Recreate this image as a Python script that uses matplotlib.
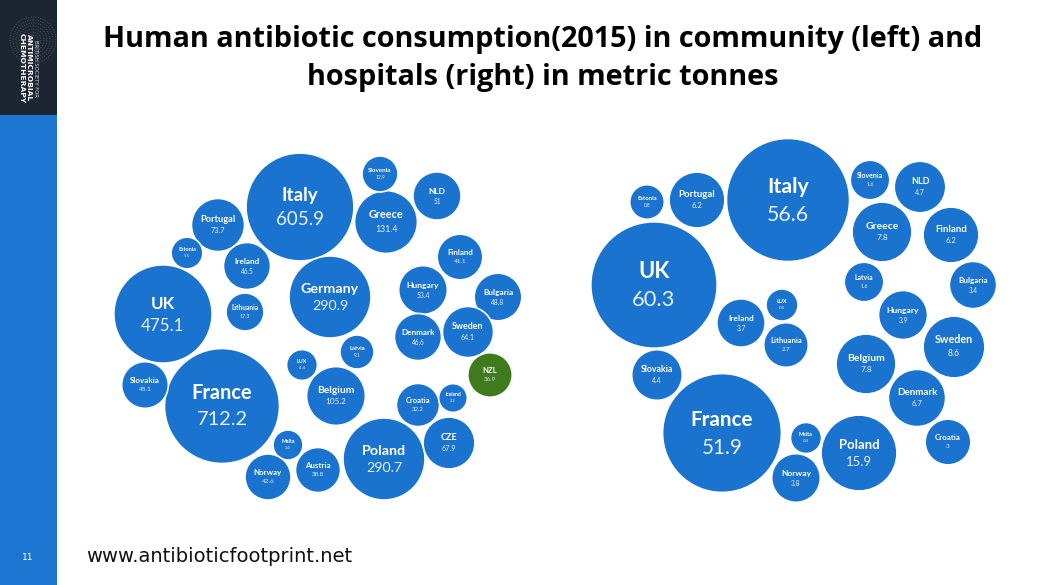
import numpy as np
import matplotlib
matplotlib.use('Agg')
import matplotlib.pyplot as plt
from matplotlib.patches import Circle, Rectangle


# community consumption (left chart), metric tonnes
LEFT_NAMES = ['Italy', 'France', 'UK', 'Germany', 'Poland', 'Greece', 'Belgium',
              'Portugal', 'Ireland', 'Estonia', 'Lithuania', 'Slovenia', 'NLD',
              'Finland', 'Hungary', 'Bulgaria', 'Denmark', 'Sweden', 'Latvia',
              'LUX', 'NZL', 'Croatia', 'Iceland', 'CZE', 'Malta', 'Austria',
              'Norway', 'Slovakia']
LEFT_VALUES = [605.9, 712.2, 475.1, 290.9, 290.7, 131.4, 105.2,
               73.7, 46.5, 5.5, 17.3, 12.9, 51,
               41.1, 53.4, 48.8, 46.6, 64.1, 9.1,
               4.4, 36.9, 32.2, 2.2, 67.9, 3.4, 38.8,
               42.6, 45.1]

# hospital consumption (right chart), metric tonnes
RIGHT_NAMES = ['UK', 'Italy', 'France', 'Slovakia', 'Ireland', 'LUX', 'Lithuania',
               'Malta', 'Norway', 'Estonia', 'Portugal', 'Slovenia', 'NLD',
               'Greece', 'Finland', 'Latvia', 'Bulgaria', 'Hungary', 'Sweden',
               'Belgium', 'Denmark', 'Croatia', 'Poland']
RIGHT_VALUES = [60.3, 56.6, 51.9, 4.4, 3.7, 0.5, 2.7,
                0.4, 3.8, 0.8, 6.2, 1.6, 4.7,
                7.8, 6.2, 1.6, 3.4, 3.9, 8.6,
                7.8, 6.7, 3, 15.9]

# packed-bubble layout (bubble centres, chart-local units)
LEFT_LAYOUT_X = [200, 122, 63, 230, 284, 286, 236, 118, 147, 87, 145, 280, 337,
                 360, 323, 398, 318, 368, 257, 202, 390, 318, 353, 349, 188, 218,
                 168, 45]
LEFT_LAYOUT_Y = [67, 266, 174, 157, 319, 82, 256, 85, 126, 113, 172, 34, 56,
                 117, 150, 157, 197, 192, 212, 225, 235, 265, 258, 303, 305, 330,
                 337, 245]
RIGHT_LAYOUT_X = [74, 208, 142, 77, 161, 202, 206, 226, 216, 67, 117, 290, 340,
                  302, 371, 284, 393, 323, 374, 286, 337, 368, 279]
RIGHT_LAYOUT_Y = [155, 70, 303, 245, 193, 175, 215, 308, 348, 72, 70, 50, 57,
                  102, 105, 152, 155, 185, 217, 234, 268, 312, 323]

HIGHLIGHT = {'NZL'}

BLUE = '#1A73CE'
GREEN = '#3F7B1C'
NAVY = '#1D2432'
SIDE_BLUE = '#1C76D1'

W, H = 1044, 585


def draw_bubbles(ax, names, values, xs, ys, base, scale):
    for name, value, x, y in zip(names, values, xs, ys):
        r = base + scale * np.sqrt(value)
        color = GREEN if name in HIGHLIGHT else BLUE
        ax.add_patch(Circle((x, y), r, facecolor=color, edgecolor='white', lw=1.2))
        fs = 0.25 * r
        vfs = fs if r > 35 else 0.2 * r
        ax.text(x, y - 0.05 * r, name, ha='center', va='bottom', color='white',
                fontsize=fs, fontweight='bold', family='Lato')
        ax.text(x, y + 0.08 * r, f'{value:g}', ha='center', va='top',
                color='#E8F0FA', fontsize=vfs, family='Lato')


def add_axes_px(fig, x0, y0, w, h):
    ax = fig.add_axes([x0 / W, (H - y0 - h) / H, w / W, h / H])
    ax.set_xlim(0, w)
    ax.set_ylim(h, 0)
    ax.axis('off')
    return ax


def main():
    fig = plt.figure(figsize=(W / 100, H / 100), dpi=100)
    fig.patch.set_facecolor('white')

    # sidebar
    fig.patches.append(Rectangle((0, 0), 57 / W, 1, transform=fig.transFigure,
                                 facecolor=SIDE_BLUE, zorder=-2))
    fig.patches.append(Rectangle((0, 1 - 115 / H), 57 / W, 115 / H,
                                 transform=fig.transFigure, facecolor=NAVY,
                                 zorder=-1))
    side = add_axes_px(fig, 0, 0, 57, 115)
    for rr in np.arange(5, 26, 3.0):
        side.add_patch(Circle((33, 40), rr, fill=False, edgecolor='#9AA2B0',
                              lw=0.6, ls=(0, (1, 2)), alpha=0.55))
    side.text(35, 68, 'BRITISH SOCIETY FOR', rotation=-90, ha='center', va='center',
              color='#D0D6E0', fontsize=3.8, family='DejaVu Sans')
    side.text(29, 68, 'ANTIMICROBIAL', rotation=-90, ha='center', va='center',
              color='white', fontsize=5.4, fontweight='bold', family='DejaVu Sans')
    side.text(22, 68, 'CHEMOTHERAPY', rotation=-90, ha='center', va='center',
              color='white', fontsize=5.4, fontweight='bold', family='DejaVu Sans')

    fig.text(28 / W, 1 - 557 / H, '11', ha='center', va='center', color='white',
             fontsize=6.5, family='DejaVu Sans')

    # title
    fig.text(543 / W, 1 - 39 / H,
             'Human antibiotic consumption(2015) in community (left) and',
             ha='center', va='center', fontsize=20.8, fontweight='bold',
             family='Open Sans', color='black')
    fig.text(543 / W, 1 - 78 / H, 'hospitals (right) in metric tonnes',
             ha='center', va='center', fontsize=20.8, fontweight='bold',
             family='Open Sans', color='black')

    # footer
    fig.text(86 / W, 1 - 557 / H, 'www.antibioticfootprint.net', ha='left',
             va='center', fontsize=14, family='DejaVu Sans', color='#111111')

    left_ax = add_axes_px(fig, 100, 140, 430, 370)
    draw_bubbles(left_ax, LEFT_NAMES, LEFT_VALUES, LEFT_LAYOUT_X, LEFT_LAYOUT_Y,
                 11.85, 1.71)

    right_ax = add_axes_px(fig, 580, 130, 430, 380)
    draw_bubbles(right_ax, RIGHT_NAMES, RIGHT_VALUES, RIGHT_LAYOUT_X,
                 RIGHT_LAYOUT_Y, 11.3, 6.68)

    fig.savefig('out.png', dpi=100)


if __name__ == '__main__':
    main()
